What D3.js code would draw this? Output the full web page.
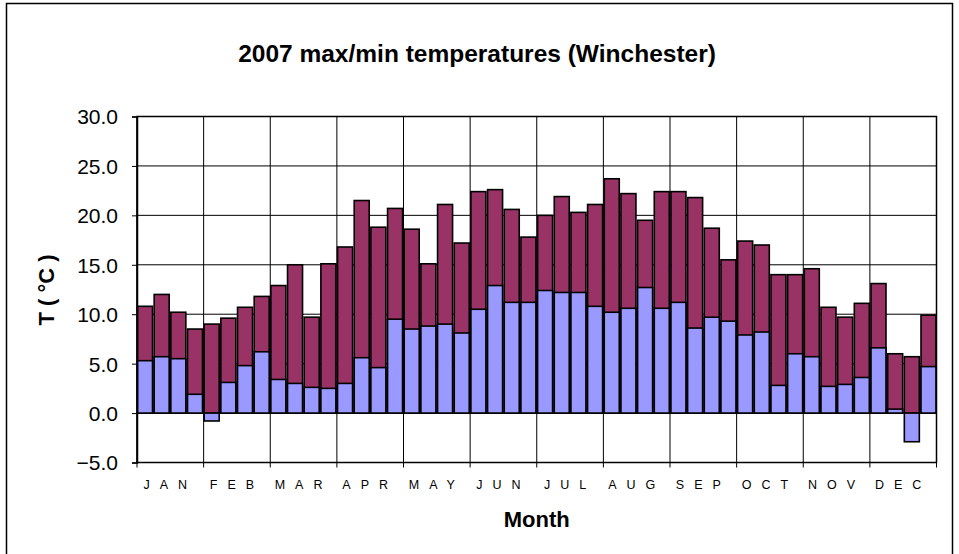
<!DOCTYPE html>
<html lang="en">
<head>
    <meta charset="UTF-8">
    <title>2007 max/min temperatures (Winchester)</title>
    <script src="https://d3js.org/d3.v7.min.js"></script>
    <style>
        body { margin: 0; background: #fff; }
        text { font-family: Arial, "Liberation Sans", sans-serif; }
    </style>
</head>
<body>
    <script>
        // weekly-ish readings, 4 per month
        var months = ["JAN", "FEB", "MAR", "APR", "MAY", "JUN", "JUL", "AUG", "SEP", "OCT", "NOV", "DEC"];
        var maxTemps = [10.8, 12.0, 10.2, 8.5, 9.0, 9.6, 10.7, 11.8, 12.9, 15.0, 9.7, 15.1,
                        16.8, 21.5, 18.8, 20.7, 18.6, 15.1, 21.1, 17.2, 22.4, 22.6, 20.6, 17.8,
                        20.0, 21.9, 20.3, 21.1, 23.7, 22.2, 19.5, 22.4, 22.4, 21.8, 18.7, 15.5,
                        17.4, 17.0, 14.0, 14.0, 14.6, 10.7, 9.7, 11.1, 13.1, 6.0, 5.7, 9.9];
        var minTemps = [5.3, 5.7, 5.5, 1.9, -0.8, 3.1, 4.8, 6.2, 3.4, 3.0, 2.6, 2.5,
                        3.0, 5.6, 4.6, 9.5, 8.5, 8.8, 9.0, 8.1, 10.5, 12.9, 11.2, 11.2,
                        12.4, 12.2, 12.2, 10.8, 10.2, 10.6, 12.7, 10.6, 11.2, 8.6, 9.7, 9.3,
                        7.9, 8.2, 2.8, 6.0, 5.7, 2.7, 2.9, 3.6, 6.6, 0.4, -2.9, 4.7];
        var yTicks = [-5, 0, 5, 10, 15, 20, 25, 30];

        var W = 959, H = 554;
        var margin = {top: 116.5, right: 22.5, bottom: 91.5, left: 137};
        var width = W - margin.left - margin.right,
            height = H - margin.top - margin.bottom;

        var svg = d3.select("body").append("svg")
            .attr("width", W)
            .attr("height", H);

        // outer chart frame (runs off the bottom)
        svg.append("rect")
            .attr("x", 6.5).attr("y", 3.5)
            .attr("width", 946).attr("height", 570)
            .attr("fill", "none").attr("stroke", "#000").attr("stroke-width", 1.5);

        var g = svg.append("g")
            .attr("transform", "translate(" + margin.left + "," + margin.top + ")");

        var x = d3.scaleBand()
            .domain(d3.range(maxTemps.length))
            .range([0, width])
            .paddingInner(0.1)
            .paddingOuter(0.03);

        var xm = d3.scaleLinear().domain([0, 12]).range([0, width]);

        var y = d3.scaleLinear().domain([-5, 30]).range([height, 0]);

        // horizontal gridlines
        g.append("g")
            .selectAll("line")
            .data(yTicks)
            .enter().append("line")
            .attr("x1", 0).attr("x2", width)
            .attr("y1", d => y(d)).attr("y2", d => y(d))
            .attr("stroke", "#000").attr("stroke-width", 1);

        // vertical gridlines at month boundaries
        g.append("g")
            .selectAll("line")
            .data(d3.range(13))
            .enter().append("line")
            .attr("x1", d => xm(d)).attr("x2", d => xm(d))
            .attr("y1", 0).attr("y2", height)
            .attr("stroke", "#000").attr("stroke-width", 1);

        // max bars
        g.append("g")
            .selectAll("rect")
            .data(maxTemps)
            .enter().append("rect")
            .attr("x", (d, i) => x(i))
            .attr("width", x.bandwidth())
            .attr("y", d => y(Math.max(d, 0)))
            .attr("height", d => Math.abs(y(d) - y(0)))
            .attr("fill", "#993366")
            .attr("stroke", "#000").attr("stroke-width", 1.6);

        // min bars drawn in front
        g.append("g")
            .selectAll("rect")
            .data(minTemps)
            .enter().append("rect")
            .attr("x", (d, i) => x(i))
            .attr("width", x.bandwidth())
            .attr("y", d => y(Math.max(d, 0)))
            .attr("height", d => Math.abs(y(d) - y(0)))
            .attr("fill", "#9999ff")
            .attr("stroke", "#000").attr("stroke-width", 1.6);

        // plot border
        g.append("rect")
            .attr("width", width).attr("height", height)
            .attr("fill", "none").attr("stroke", "#000").attr("stroke-width", 1.5);

        // y axis
        var yAxis = g.append("g")
            .call(d3.axisLeft(y).tickValues(yTicks).tickSize(5).tickPadding(14).tickFormat(d3.format(".1f")));
        yAxis.selectAll("text").style("font-size", "21px").attr("fill", "#000").attr("dy", "0.35em");
        yAxis.select(".domain").attr("stroke-width", 1.5);

        // x axis month ticks
        g.append("g")
            .selectAll("line")
            .data(d3.range(13))
            .enter().append("line")
            .attr("x1", d => xm(d)).attr("x2", d => xm(d))
            .attr("y1", height).attr("y2", height + 5)
            .attr("stroke", "#000");

        g.append("g")
            .selectAll("text")
            .data(months)
            .enter().append("text")
            .attr("x", (d, i) => xm(i + 0.5))
            .attr("y", height + 26)
            .attr("text-anchor", "middle")
            .style("font-size", "12.5px")
            .style("letter-spacing", "10px")
            .text(d => d);

        // title
        svg.append("text")
            .attr("x", 477).attr("y", 62)
            .attr("text-anchor", "middle")
            .style("font-size", "24.5px").style("font-weight", "bold")
            .text("2007 max/min temperatures (Winchester)");

        // axis titles
        svg.append("text")
            .attr("x", margin.left + width / 2).attr("y", 526.5)
            .attr("text-anchor", "middle")
            .style("font-size", "22px").style("font-weight", "bold")
            .text("Month");

        svg.append("text")
            .attr("transform", "translate(53.5,290) rotate(-90)")
            .attr("text-anchor", "middle")
            .style("font-size", "22px").style("font-weight", "bold")
            .text("T ( °C )");
    </script>
</body>
</html>
